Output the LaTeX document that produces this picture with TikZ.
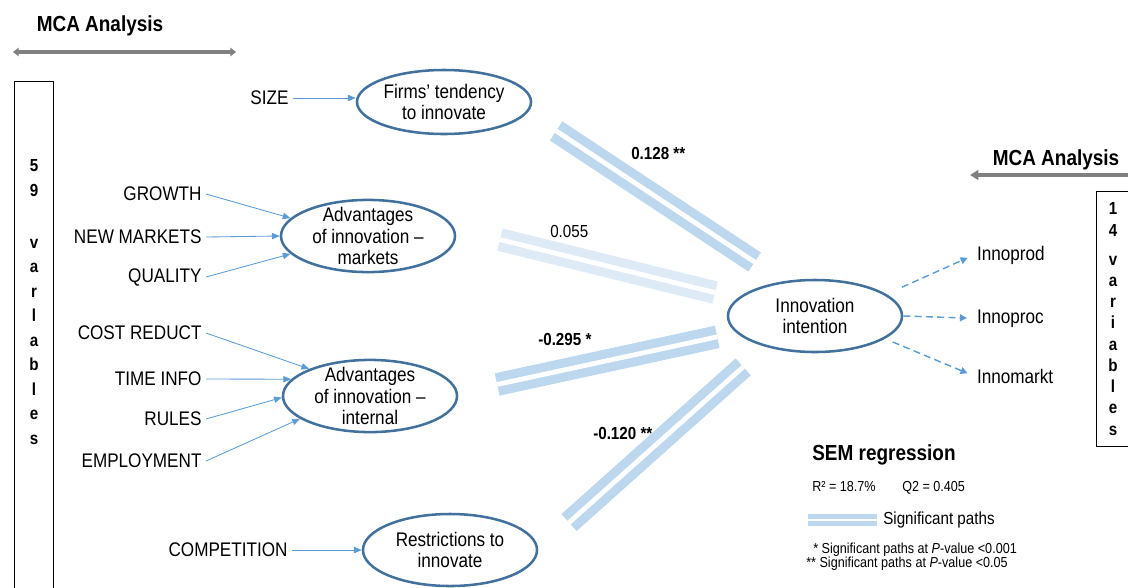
\documentclass[tikz,border=0pt]{standalone}
\usepackage{fontspec}
\setmainfont{Liberation Sans}[FakeStretch=0.87]
\usetikzlibrary{shapes.geometric,arrows.meta}

\tikzset{
    construct/.style={ellipse, draw=EdgeBlue, line width=1.8pt, inner xsep=0pt, inner ysep=-2pt,
        minimum width=4.35cm, minimum height=1.8cm, align=center,
        font=\fontsize{14}{15}\selectfont},
    indicator/.style={anchor=east, inner sep=3pt, font=\fontsize{14}{15}\selectfont},
    outlabel/.style={anchor=base west, inner sep=2pt, font=\fontsize{14}{15}\selectfont},
    feed/.style={draw=ArrowBlue, line width=0.6pt, -{Triangle[length=5.5pt,width=4.5pt]}},
    pathbar/.style={draw=BarBlue, line width=6.4pt, double=white, double distance=3.4pt},
    weakbar/.style={pathbar, draw=PaleBlue},
    coef/.style={anchor=base west, inner sep=0pt, font=\bfseries\fontsize{12.4}{14}\selectfont},
    outcome/.style={draw=ArrowBlue, line width=1pt, dash pattern=on 5pt off 3pt,
        -{Triangle[length=5pt,width=5pt]}},
    heading/.style={anchor=base, inner sep=0pt, font=\bfseries\fontsize{15.5}{18}\selectfont},
    mca/.style={draw=MidGray, line width=2.2pt},
    boxline/.style={draw=black, line width=0.7pt},
    boxchar/.style={anchor=base, inner sep=0pt, font=\bfseries\fontsize{12.4}{14}\selectfont},
    keytext/.style={anchor=base west, inner sep=0pt, font=\fontsize{10.3}{12}\selectfont},
}

\begin{document}
\begin{tikzpicture}[x=0.025cm,y=-0.025cm]
    \definecolor{EdgeBlue}{HTML}{41719C}
    \definecolor{ArrowBlue}{HTML}{5B9BD5}
    \definecolor{BarBlue}{HTML}{BDD7EE}
    \definecolor{PaleBlue}{HTML}{DEEBF7}
    \definecolor{MidGray}{HTML}{808080}
    \useasboundingbox (0,0) rectangle (1128,587);

    \node[heading] (mcaleft) at (100,31) {MCA Analysis};
    \coordinate (mcaA) at (13,52);
    \coordinate (mcaB) at (236,52);
    \draw[mca, {Triangle[length=4pt,width=6pt]}-{Triangle[length=4pt,width=6pt]}] (mcaA) -- (mcaB);
    \node[heading] (mcaright) at (1056,165) {MCA Analysis};
    \coordinate (mcaC) at (1130,175);
    \coordinate (mcaD) at (970,175);
    \draw[mca, -{Triangle[length=6pt,width=7pt]}] (mcaC) -- (mcaD);

    \draw[boxline] (14,81) rectangle (53,600);
    \node[boxchar] (l5) at (34,171) {5};
    \node[boxchar] (l9) at (34,196) {9};
    \foreach \ch [count=\i] in {v,a,r,l,a,b,l,e,s}
        \node[boxchar] (lv\i) at (34,223.5+24.5*\i) {\ch};
    \draw[boxline] (1096,191) rectangle (1140,446);
    \node[boxchar] (r1) at (1113,214) {1};
    \node[boxchar] (r4) at (1113,236) {4};
    \foreach \ch [count=\i] in {v,a,r,i,a,b,l,e,s}
        \node[boxchar] (rv\i) at (1113,243.75+21.25*\i) {\ch};

    \node[construct, minimum height=1.6cm] (firms) at (444,102) {Firms’ tendency\\to innovate};
    \node[construct] (advmkt) at (368,236) {Advantages\\of innovation --\\markets};
    \node[construct] (advint) at (370,396) {Advantages\\of innovation --\\internal};
    \node[construct] (restr) at (450,550) {Restrictions to\\innovate};
    \node[construct] (innov) at (815,316) {Innovation\\intention};

    \node[indicator] (size) at (293,98) {SIZE};
    \draw[feed] (size) -- (size -| firms.west);
    \foreach \nm/\txt/\y/\ang in {growth/GROWTH/194/167,newmkt/NEW MARKETS/237/180,quality/QUALITY/277/193}{
        \node[indicator] (\nm) at (206,\y) {\txt};
        \draw[feed] (\nm.east) -- (advmkt.\ang);
    }
    \foreach \nm/\txt/\y/\ang in {cost/COST REDUCT/333/156,timeinfo/TIME INFO/379/168,rules/RULES/419/181,employ/EMPLOYMENT/461/198}{
        \node[indicator] (\nm) at (206,\y) {\txt};
        \draw[feed] (\nm.east) -- (advint.\ang);
    }
    \node[indicator] (compet) at (292,550) {COMPETITION};
    \draw[feed] (compet) -- (compet -| restr.west);

    \draw[pathbar, shorten <=24pt, shorten >=24.7pt] (firms.-7) -- (innov.132);
    \draw[weakbar, shorten <=33.3pt, shorten >=16.4pt] (advmkt.5) -- (innov.167);
    \draw[pathbar, shorten <=28.5pt, shorten >=13.8pt] (advint.2) -- (innov.192);
    \draw[pathbar, shorten <=29.3pt, shorten >=21.3pt] (restr.0) -- (innov.212);
    \node[coef] (c1) at (631,159) {0.128 **};
    \node[coef, font=\fontsize{12.4}{14}\selectfont] (c2) at (550,237) {0.055};
    \node[coef] (c3) at (538,345) {-0.295 *};
    \node[coef] (c4) at (593,439) {-0.120 **};

    \node[outlabel] (prod) at (974,260) {Innoprod};
    \node[outlabel] (proc) at (974,323) {Innoproc};
    \node[outlabel] (markt) at (974,383) {Innomarkt};
    \draw[outcome, shorten <=12pt, shorten >=5pt] (innov.17) -- (prod.west);
    \draw[outcome, shorten >=5pt] (innov.east) -- (proc.west);
    \draw[outcome, shorten <=6pt, shorten >=5pt] (innov.-18) -- (markt.west);

    \node[heading, anchor=base west] (sem) at (812,460) {SEM regression};
    \node[keytext] (rsq) at (812,491) {R² = 18.7\%};
    \node[keytext] (qsq) at (902,491) {Q2 = 0.405};
    \coordinate (keyA) at (808,520);
    \coordinate (keyB) at (877,520);
    \draw[pathbar, line width=3.5pt, double distance=2pt] (keyA) -- (keyB);
    \node[keytext, font=\fontsize{12.4}{14}\selectfont] (sig) at (883,524) {Significant paths};
    \node[keytext] (p1) at (813,553) {* Significant paths at \textit{P}-value <0.001};
    \node[keytext] (p2) at (806,567) {** Significant paths at \textit{P}-value <0.05};
\end{tikzpicture}
\end{document}
